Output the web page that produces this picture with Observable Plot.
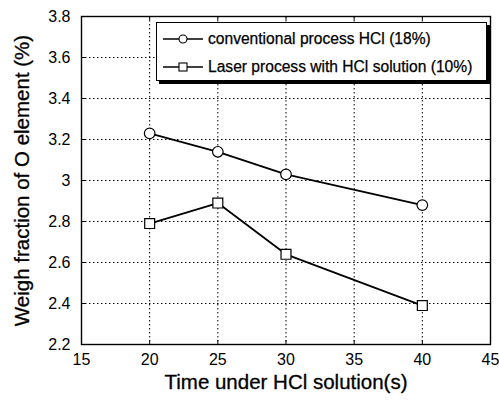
<!DOCTYPE html>
<html>
<head>
<meta charset="utf-8">
<script src="https://cdn.jsdelivr.net/npm/d3@7"></script>
<script src="https://cdn.jsdelivr.net/npm/@observablehq/plot@0.6"></script>
<style>
  body { margin: 0; background: #fff; }
  #wrap { position: relative; width: 499px; height: 402px; font-family: "Liberation Sans", Arial, sans-serif; }
  #legend { position: absolute; left: 156px; top: 22px; width: 331px; height: 59px; border: 1.3px solid #000;
    box-shadow: 3px 3px 0 #000; background: #fff; box-sizing: border-box; }
  .row { position: absolute; left: 0; height: 20px; display: flex; align-items: center; font-size: 15.6px; color: #000; white-space: nowrap; }
  .row svg { margin-left: 6px; margin-right: 5px; }
  svg text { paint-order: stroke; }
</style>
</head>
<body>
<div id="wrap"></div>
<script>
const times = [20, 25, 30, 40];
const conventional = [3.23, 3.14, 3.03, 2.88];
const laser = [2.79, 2.89, 2.64, 2.39];
const seriesNames = ["conventional process HCl (18%)", "Laser process with HCl solution (10%)"];
const xTicks = [15, 20, 25, 30, 35, 40, 45];
const yTicks = [2.2, 2.4, 2.6, 2.8, 3, 3.2, 3.4, 3.6, 3.8];
const xTitle = "Time under HCl solution(s)";
const yTitle = "Weigh fraction of O element (%)";

const convData = times.map((t, i) => ({t, v: conventional[i]}));
const laserData = times.map((t, i) => ({t, v: laser[i]}));

const W = 499, H = 402, mL = 81, mR = 9, mT = 16, mB = 58;
const fw = W - mL - mR, fh = H - mT - mB;
const innerX = xTicks.slice(1, -1);
const innerY = yTicks.slice(1, -1);
const dash = "1.5,2.5";

const chart = Plot.plot({
  width: W, height: H,
  marginLeft: mL, marginRight: mR, marginTop: mT, marginBottom: mB,
  style: {fontFamily: "'Liberation Sans', Arial, sans-serif", background: "#fff", color: "#000"},
  x: {domain: [15, 45], label: null},
  y: {domain: [2.2, 3.8], label: null},
  marks: [
    Plot.gridX(innerX, {stroke: "#000", strokeOpacity: 1, strokeWidth: 1, strokeDasharray: dash}),
    Plot.gridY(innerY, {stroke: "#000", strokeOpacity: 1, strokeWidth: 1, strokeDasharray: dash}),
    Plot.ruleY(innerY, {y: d => d, insetRight: fw - 4, stroke: "#000"}),
    Plot.ruleY(innerY, {y: d => d, insetLeft: fw - 4, stroke: "#000"}),
    Plot.ruleX(innerX, {x: d => d, insetTop: fh - 4, stroke: "#000"}),
    Plot.ruleX(innerX, {x: d => d, insetBottom: fh - 4, stroke: "#000"}),
    Plot.frame({stroke: "#000", strokeWidth: 1.4}),
    Plot.axisX({ticks: xTicks, tickSize: 0, tickPadding: 9, fontSize: 16, label: null, tickFormat: d => String(d), stroke: "#000", strokeWidth: 0.35}),
    Plot.axisY({ticks: yTicks, tickSize: 0, tickPadding: 11, fontSize: 16, label: null, tickFormat: d => String(+d.toFixed(1)), stroke: "#000", strokeWidth: 0.35}),
    Plot.line(convData, {x: "t", y: "v", stroke: "#000", strokeWidth: 1.8}),
    Plot.line(laserData, {x: "t", y: "v", stroke: "#000", strokeWidth: 1.8}),
    Plot.dot(convData, {x: "t", y: "v", symbol: "circle", r: 5.3, fill: "#fff", stroke: "#000", strokeWidth: 1.2}),
    Plot.dot(laserData, {x: "t", y: "v", symbol: "square", r: 5.6, fill: "#fff", stroke: "#000", strokeWidth: 1.2}),
    Plot.text([xTitle], {text: d => d, frameAnchor: "bottom", dy: 44, fontSize: 20.5, fill: "#000", stroke: "#000", strokeWidth: 0.3}),
    Plot.text([yTitle], {text: d => d, frameAnchor: "left", textAnchor: "middle", dx: -59, rotate: -90, fontSize: 20.5, fill: "#000", stroke: "#000", strokeWidth: 0.3})
  ]
});
const wrap = document.getElementById("wrap");
wrap.appendChild(chart);

const legend = document.createElement("div");
legend.id = "legend";
const syms = [
  '<circle cx="20" cy="10" r="4" fill="#fff" stroke="#000" stroke-width="1.1"/>',
  '<rect x="16" y="6" width="8" height="8" fill="#fff" stroke="#000" stroke-width="1.1"/>'
];
const rowTops = [6, 34];
seriesNames.forEach((name, i) => {
  const row = document.createElement("div");
  row.className = "row";
  row.style.top = rowTops[i] + "px";
  row.innerHTML = '<svg width="40" height="20"><line x1="0" x2="40" y1="10" y2="10" stroke="#000" stroke-width="1.3"/>' + syms[i] + '</svg><span style="-webkit-text-stroke:0.25px #000">' + name + '</span>';
  legend.appendChild(row);
});
wrap.appendChild(legend);
</script>
</body>
</html>
